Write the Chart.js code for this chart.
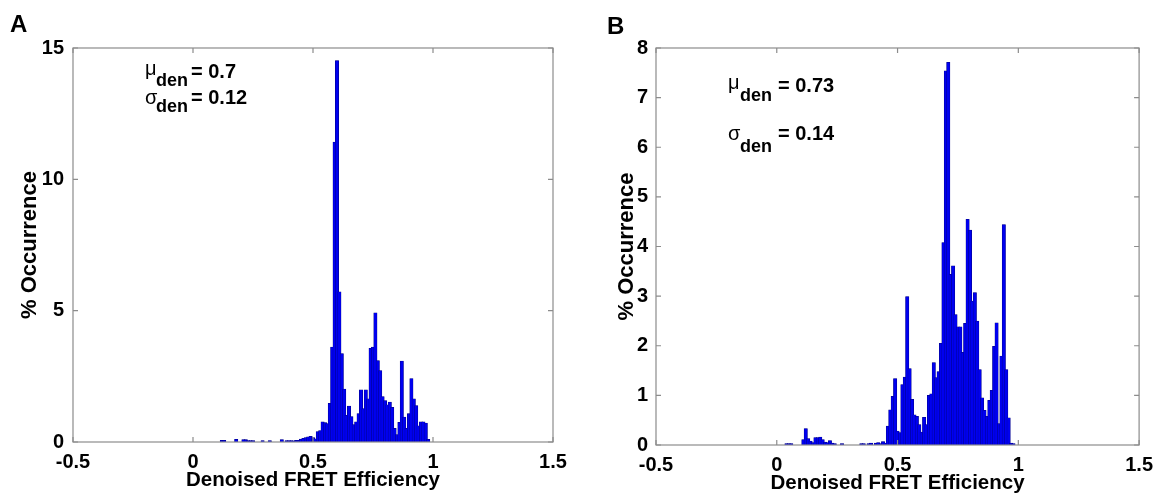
<!DOCTYPE html>
<html>
<head>
<meta charset="utf-8">
<script src="https://cdn.jsdelivr.net/npm/chart.js@4"></script>
<style>
  body { margin: 0; background: #fff; width: 1161px; height: 496px; position: relative; overflow: hidden;
         font-family: "Liberation Sans", Arial, sans-serif; }
  canvas { position: absolute; top: 0; }
  .t { position: absolute; font-weight: bold; color: #000; white-space: nowrap; line-height: 1; transform: translateY(-50%); }
  .g { font-weight: normal; }
</style>
</head>
<body>
<canvas id="chartA" width="580" height="496" style="left:0"></canvas>
<canvas id="chartB" width="581" height="496" style="left:580px"></canvas>

<div class="t" style="left:10px;top:24px;font-size:24px">A</div>
<div class="t" style="left:607px;top:26px;font-size:24px">B</div>

<div class="t g" style="left:145px;top:68px;font-size:20px">μ</div>
<div class="t" style="left:156px;top:80px;font-size:18px">den</div>
<div class="t" style="left:191px;top:71px;font-size:20px">= 0.7</div>
<div class="t g" style="left:145px;top:97px;font-size:20px">σ</div>
<div class="t" style="left:156px;top:106px;font-size:18px">den</div>
<div class="t" style="left:191px;top:97px;font-size:20px">= 0.12</div>

<div class="t g" style="left:728px;top:82px;font-size:20px">μ</div>
<div class="t" style="left:740px;top:95px;font-size:18px">den</div>
<div class="t" style="left:778px;top:85px;font-size:20px">= 0.73</div>
<div class="t g" style="left:728px;top:133px;font-size:20px">σ</div>
<div class="t" style="left:740px;top:146px;font-size:18px">den</div>
<div class="t" style="left:778px;top:133px;font-size:20px">= 0.14</div>

<script>
// histogram bins are 0.01 wide
const binWidth = 0.01;

// panel A: % occurrence per bin, first bin centred at 0.12
const firstBinA = 0.12;
const occurrenceA = [
  0.05, 0.05, 0, 0, 0, 0, 0.08, 0, 0, 0.07,
  0.07, 0.04, 0.04, 0.04, 0, 0, 0, 0.04, 0, 0,
  0.04, 0, 0, 0, 0, 0.07, 0, 0.04, 0.04, 0.04,
  0.03, 0.05, 0.05, 0.09, 0.12, 0.15, 0.18, 0.2, 0.15, 0.1,
  0.38, 0.42, 0.75, 0.72, 0.68, 1.45, 3.6, 11.4, 14.5, 5.7,
  3.35, 2.0, 1.0, 1.35, 0.95, 0.65, 0.75, 1.06, 1.97, 1.25,
  1.97, 1.63, 3.55, 3.6, 4.9, 3.08, 2.7, 1.71, 1.56, 1.4,
  1.5, 1.3, 0.5, 0.26, 0.73, 3.06, 0.93, 0.5, 1.06, 2.4,
  1.63, 1.37, 0.6, 0.75, 0.75, 0.7, 0.08
];

// panel B: % occurrence per bin, first bin centred at 0.04
const firstBinB = 0.04;
const occurrenceB = [
  0.02, 0.02, 0.02, 0, 0, 0, 0, 0.1, 0.32, 0.12,
  0.07, 0.04, 0.14, 0.14, 0.15, 0.1, 0.05, 0.04, 0.08, 0.03,
  0.02, 0, 0, 0.02, 0, 0, 0, 0, 0, 0,
  0, 0.02, 0.02, 0, 0.02, 0.03, 0, 0.03, 0.04, 0.02,
  0.06, 0.03, 0.37, 0.70, 0.97, 1.33, 0.27, 0.24, 1.21, 1.36,
  2.98, 1.53, 0.91, 0.6, 0.57, 0.4, 0.25, 0.55, 0.4, 0.99,
  1.02, 1.65, 1.35, 1.47, 2.04, 4.07, 7.53, 7.70, 3.43, 3.6,
  2.62, 2.37, 2.37, 1.86, 2.44, 4.54, 4.32, 2.89, 3.06, 2.49,
  1.51, 0.94, 0.69, 0.57, 0.89, 1.09, 1.98, 2.45, 0.42, 1.78,
  4.43, 1.51, 0.54, 0.03, 0.02
];

const xTicks = [-0.5, 0, 0.5, 1, 1.5];
const yTicksA = [0, 5, 10, 15];
const yTicksB = [0, 1, 2, 3, 4, 5, 6, 7, 8];

const xTitle = "Denoised FRET Efficiency";
const yTitle = "% Occurrence";

function binCenters(first, n) {
  return Array.from({ length: n }, (_, i) => +(first + i * binWidth).toFixed(2));
}

// MATLAB style box with inward ticks on all four sides
const frameTicks = {
  id: "frameTicks",
  afterDatasetsDraw(chart) {
    const { ctx, chartArea: a, scales } = chart;
    const len = 5;
    ctx.save();
    ctx.strokeStyle = "#8c8c8c";
    ctx.lineWidth = 1.2;
    ctx.strokeRect(a.left, a.top, a.right - a.left, a.bottom - a.top);
    ctx.beginPath();
    scales.x.ticks.forEach((t) => {
      const px = scales.x.getPixelForValue(t.value);
      ctx.moveTo(px, a.bottom); ctx.lineTo(px, a.bottom - len);
      ctx.moveTo(px, a.top); ctx.lineTo(px, a.top + len);
    });
    scales.y.ticks.forEach((t) => {
      const py = scales.y.getPixelForValue(t.value);
      ctx.moveTo(a.left, py); ctx.lineTo(a.left + len, py);
      ctx.moveTo(a.right, py); ctx.lineTo(a.right - len, py);
    });
    ctx.stroke();
    ctx.restore();
  }
};

function makeHist(id, first, values, yTicks, box) {
  const centers = binCenters(first, values.length);
  const family = "'Liberation Sans', Arial, sans-serif";
  const font = { family: family, weight: "bold", size: 20 };
  return new Chart(document.getElementById(id), {
    type: "bar",
    data: {
      datasets: [{
        data: centers.map((c, i) => ({ x: c, y: values[i] })),
        backgroundColor: "#0000f0",
        borderColor: "#00007a",
        borderWidth: 0.5,
        inflateAmount: 0.8,
        barPercentage: 1,
        categoryPercentage: 1
      }]
    },
    options: {
      responsive: false,
      animation: false,
      layout: { padding: { left: 0, right: box.right, top: box.top, bottom: 0 } },
      plugins: { legend: { display: false }, tooltip: { enabled: false } },
      scales: {
        x: {
          type: "linear",
          min: -0.5, max: 1.5,
          offset: false,
          grid: { display: false, drawTicks: false },
          border: { display: false },
          afterBuildTicks: (s) => { s.ticks = xTicks.map((v) => ({ value: v })); },
          afterFit: (s) => { s.height = box.xHeight; },
          ticks: { color: "#000", font: font, padding: 8, maxRotation: 0, autoSkip: false,
                   callback: (v) => String(v) },
          title: { display: true, text: xTitle, color: "#000", padding: { top: 0, bottom: box.xTitlePad },
                   font: { family: family, weight: "bold", size: 20.5 } }
        },
        y: {
          min: 0, max: yTicks[yTicks.length - 1],
          grid: { display: false, drawTicks: false },
          border: { display: false },
          afterBuildTicks: (s) => { s.ticks = yTicks.map((v) => ({ value: v })); },
          afterFit: (s) => { s.width = box.left; },
          ticks: { color: "#000", font: font, padding: box.yTickPad, autoSkip: false },
          title: { display: true, text: yTitle, color: "#000", padding: { top: box.yTitlePad, bottom: 0 },
                   font: { family: family, weight: "bold", size: 22 } }
        }
      }
    },
    plugins: [frameTicks]
  });
}

makeHist("chartA", firstBinA, occurrenceA, yTicksA,
  { left: 73, right: 27, top: 48, xHeight: 54, xTitlePad: 3, yTitlePad: 17, yTickPad: 9 });
makeHist("chartB", firstBinB, occurrenceB, yTicksB,
  { left: 76, right: 19, top: 48, xHeight: 51, xTitlePad: 0, yTitlePad: 34, yTickPad: 8 });
</script>
</body>
</html>
